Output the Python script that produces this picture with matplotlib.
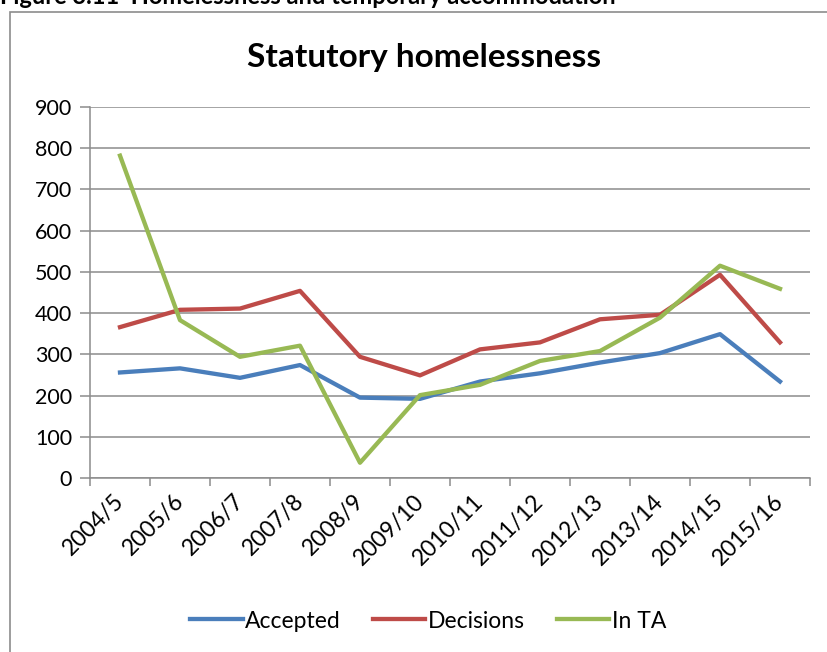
import matplotlib
matplotlib.use("Agg")
import matplotlib.pyplot as plt
import matplotlib.transforms as mtransforms
from matplotlib.patches import Rectangle

plt.rcParams['font.family'] = ['Lato', 'DejaVu Sans']

# Statutory homelessness by year
years = ["2004/5", "2005/6", "2006/7", "2007/8", "2008/9", "2009/10",
         "2010/11", "2011/12", "2012/13", "2013/14", "2014/15", "2015/16"]
accepted = [256, 266, 243, 274, 195, 192, 234, 254, 280, 303, 349, 234]
decisions = [366, 408, 411, 454, 294, 249, 312, 329, 385, 396, 493, 329]
in_ta = [782, 383, 294, 321, 37, 201, 226, 284, 308, 389, 515, 459]

W, H = 827, 652
fig = plt.figure(figsize=(W / 100, H / 100), dpi=100)

# heading of the report figure, mostly above the page edge
fig.text(0, 1 - 4 / H, "Figure 3.11  Homelessness and temporary accommodation",
         fontsize=17, fontweight='bold', va='baseline', ha='left')

# chart frame
fig.patches.append(Rectangle((10 / W, -0.1), 1.2, 1.1 - 12 / H,
                             transform=fig.transFigure, fill=False,
                             edgecolor='#8c8c8c', linewidth=1.2))

ax = fig.add_axes([90 / W, 1 - 478 / H, 720 / W, 371 / H])

x = list(range(len(years)))
ax.plot(x, accepted, color='#4a7ebb', linewidth=3.1, label='Accepted')
ax.plot(x, decisions, color='#be4b48', linewidth=3.1, label='Decisions')
ax.plot(x, in_ta, color='#98b954', linewidth=3.1, label='In TA')

ax.set_xlim(-0.5, len(years) - 0.5)
ax.set_ylim(0, 900)
ax.set_yticks(range(0, 1000, 100))
ax.grid(axis='y', color='#8c8c8c', linewidth=1.1)
ax.set_axisbelow(True)

for side in ['top', 'right']:
    ax.spines[side].set_visible(False)
for side in ['left', 'bottom']:
    ax.spines[side].set_color('#8c8c8c')
    ax.spines[side].set_linewidth(1.1)

# category ticks sit between the years
ax.set_xticks([i - 0.5 for i in range(len(years) + 1)], minor=False)
ax.set_xticklabels([])
ax.set_xticks(x, minor=True)
ax.set_xticklabels(years, minor=True, rotation=45, ha='right',
                   rotation_mode='anchor', fontsize=16.5)
ax.tick_params(axis='x', which='major', length=6, color='#8c8c8c', width=1.1)
ax.tick_params(axis='x', which='minor', length=0, pad=9)
ax.tick_params(axis='y', length=7, color='#8c8c8c', width=1.1,
               labelsize=15.5, pad=6)

# nudge the slanted year labels so their ends sit on the year
shift = mtransforms.ScaledTranslation(-7 / 100, 0, fig.dpi_scale_trans)
for lbl in ax.get_xticklabels(minor=True):
    lbl.set_transform(lbl.get_transform() + shift)

fig.text(424 / W, 1 - 57 / H, "Statutory homelessness", fontsize=24,
         fontweight='bold', ha='center', va='center')

fig.legend(loc='center', bbox_to_anchor=(428 / W, 1 - 621 / H), ncol=3,
           frameon=False, fontsize=16.5, handlelength=2.3, handletextpad=0.1,
           columnspacing=1.4)

fig.savefig("out.png", dpi=100)
